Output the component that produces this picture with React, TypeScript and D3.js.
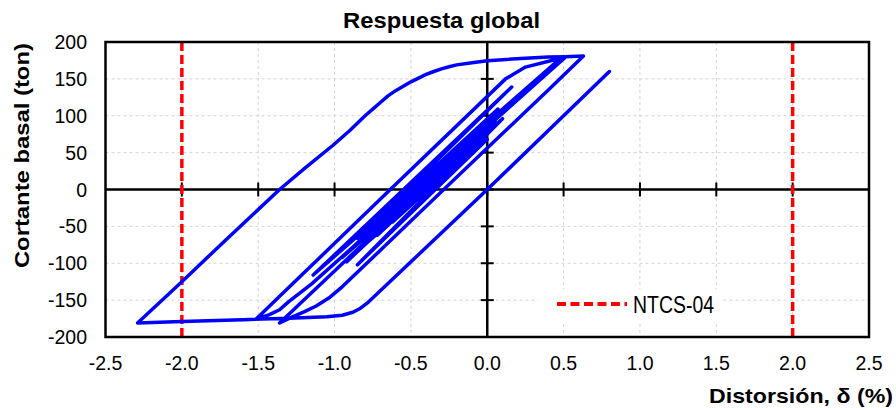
import React from 'react';
import * as d3 from 'd3';

const xTicks = [-2.5, -2.0, -1.5, -1.0, -0.5, 0.0, 0.5, 1.0, 1.5, 2.0, 2.5];
const yTicks = [-200, -150, -100, -50, 0, 50, 100, 150, 200];
const limitDrift = [-2.0, 2.0];
const legendLabel = 'NTCS-04';
const chartTitle = 'Respuesta global';
const xTitle = 'Distorsión, δ (%)';
const yTitle = 'Cortante basal (ton)';

// hysteresis history: drift (%) and base shear (ton)
const driftPct = [
  0.0, 0.8, 0.0, -0.78, -0.83, -0.88, -0.95, -1.05, -1.3, -1.6, -2.0, -2.29,
  -2.0, -1.7, -1.36, -1.2, -1.01, -0.9, -0.8, -0.75, -0.7, -0.65, -0.6, -0.55, -0.5, -0.45, -0.4,
  -0.35, -0.3, -0.25, -0.2, -0.1, 0.0, 0.1, 0.25, 0.4, 0.51, 0.63,
  0.41, -0.285, -0.95, -1.03, -1.12, -1.2, -1.28, -1.36,
  0.33, 0.4, 0.45, 0.51,
  -1.15, -1.23, -1.3, -1.36, -1.43, -1.51,
  -1.29, -0.635, 0.12, 0.25, 0.48,
  -1.14, 0.16, -0.85, 0.07, -0.95, 0.1, -0.85, 0.0,
  -0.9, 0.03, -0.78, -0.02, -0.92, 0.05, -0.82, 0.0, -0.75, -0.05, -0.8, -0.04,
  -0.7, -0.08, -0.72, -0.1, -0.65, -0.12, -0.62, -0.18, -0.58, -0.2, -0.55, -0.28, -0.48, -0.33, -0.45, -0.38,
];
const shearTon = [
  0, 160, 0, -153, -161, -166.5, -170.5, -172.5, -174.5, -176.5, -179, -181,
  -125, -66, 0, 28, 60, 80, 100, 109, 118, 127, 134, 140, 146, 151, 156,
  160, 163.5, 166.5, 169, 172, 174.5, 176, 178, 179.5, 180, 181,
  137, 0, -132, -146, -158, -166, -173, -181,
  150, 163, 171, 179,
  -128, -141, -152, -163, -170, -175,
  -131, 0, 150, 166, 178,
  -116, 139, -66, 109, -92, 96, -102, 68,
  -92, 100, -62, 88, -98, 92, -78, 78, -58, 72, -74, 70,
  -48, 62, -62, 58, -40, 50, -44, 40, -34, 36, -30, 24, -14, 18, -8, 6,
];

const W = 896;
const H = 408;
const X0 = 105.5;
const X1 = 869;
const Y0 = 42;
const Y1 = 337;

const fmt = (v: number, dec: number) => v.toFixed(dec).replace('\u2212', '-');

export default function App() {
  const x = d3.scaleLinear().domain([-2.5, 2.5]).range([X0, X1]);
  const y = d3.scaleLinear().domain([-200, 200]).range([Y1, Y0]);
  const pts: [number, number][] = driftPct.map((d, i) => [d, shearTon[i]]);
  const line = d3
    .line<[number, number]>()
    .x((p) => x(p[0]))
    .y((p) => y(p[1]));

  const font = "'Liberation Sans', Arial, Helvetica, sans-serif";
  const gridColor = '#d4d4d4';

  return (
    <svg
      width={W}
      height={H}
      style={{ position: 'absolute', left: 0, top: 0, background: '#fff' }}
      fontFamily={font}
    >
      <rect x={0} y={0} width={W} height={H} fill="#fff" />
      {/* grid */}
      {xTicks.slice(1, -1).map((t) => (
        <line key={'gx' + t} x1={x(t)} x2={x(t)} y1={Y0} y2={Y1} stroke={gridColor} strokeWidth={1} strokeDasharray="3,3" />
      ))}
      {yTicks.slice(1, -1).map((t) => (
        <line key={'gy' + t} x1={X0} x2={X1} y1={y(t)} y2={y(t)} stroke={gridColor} strokeWidth={1} strokeDasharray="3,3" />
      ))}
      {/* legend background */}
      <rect x={538} y={289} width={184} height={32} fill="#fff" />
      {/* zero axes */}
      <line x1={X0} x2={X1} y1={y(0)} y2={y(0)} stroke="#000" strokeWidth={2.5} />
      <line x1={x(0)} x2={x(0)} y1={Y0} y2={Y1} stroke="#000" strokeWidth={2.5} />
      {xTicks.slice(1, -1).map((t) => (
        <line key={'tx' + t} x1={x(t)} x2={x(t)} y1={y(0) - 7} y2={y(0) + 7} stroke="#000" strokeWidth={2} />
      ))}
      {yTicks.slice(1, -1).map((t) => (
        <line key={'ty' + t} x1={x(0) - 6.5} x2={x(0) + 6.5} y1={y(t)} y2={y(t)} stroke="#000" strokeWidth={2} />
      ))}
      {/* limits */}
      {limitDrift.map((d) => (
        <line key={'lim' + d} x1={x(d)} x2={x(d)} y1={Y0} y2={Y1} stroke="#ff0000" strokeWidth={3.5} strokeDasharray="9,4" />
      ))}
      {/* hysteresis */}
      <path d={line(pts) || ''} fill="none" stroke="#0000ff" strokeWidth={3.5} strokeLinejoin="round" strokeLinecap="round" />
      {/* frame */}
      <rect x={X0} y={Y0} width={X1 - X0} height={Y1 - Y0} fill="none" stroke="#000" strokeWidth={2.5} />
      {/* tick labels */}
      {yTicks.map((t) => (
        <text key={'ly' + t} x={87} y={y(t)} dy="0.36em" textAnchor="end" fontSize={19.5} fill="#000">
          {fmt(t, 0)}
        </text>
      ))}
      {xTicks.map((t) => (
        <text key={'lx' + t} x={x(t)} y={370} textAnchor="middle" fontSize={19.5} fill="#000">
          {fmt(t, 1)}
        </text>
      ))}
      {/* titles */}
      <text x={441.5} y={28} textAnchor="middle" fontSize={22} fontWeight="bold" textLength={197} lengthAdjust="spacingAndGlyphs">
        {chartTitle}
      </text>
      <text transform="translate(29,155.6) rotate(-90)" textAnchor="middle" fontSize={21} fontWeight="bold" textLength={225} lengthAdjust="spacingAndGlyphs">
        {yTitle}
      </text>
      <text x={893} y={403} textAnchor="end" fontSize={20.5} fontWeight="bold" textLength={184} lengthAdjust="spacingAndGlyphs">
        {xTitle}
      </text>
      {/* legend */}
      <line x1={557} x2={627} y1={304} y2={304} stroke="#ff0000" strokeWidth={4} strokeDasharray="9,4.5" />
      <text x={633} y={313} fontSize={23} fontFamily="'Liberation Sans Narrow', 'Arial Narrow', 'Liberation Sans', sans-serif" textLength={81} lengthAdjust="spacingAndGlyphs">
        {legendLabel}
      </text>
    </svg>
  );
}
